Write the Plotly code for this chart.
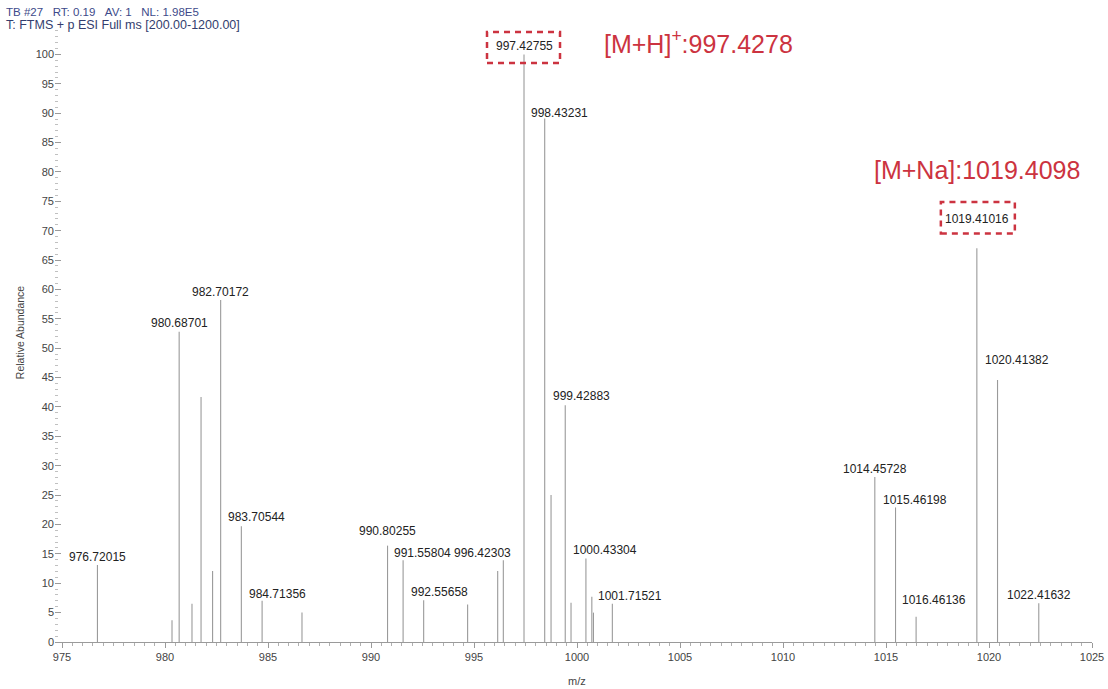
import plotly.graph_objects as go

# ---- data ----
labeled_mz = [976.72015, 980.68701, 982.70172, 983.70544, 984.71356, 990.80255,
              991.55804, 992.55658, 996.42303, 997.42755, 998.43231, 999.42883,
              1000.43304, 1001.71521, 1014.45728, 1015.46198, 1016.46136,
              1019.41016, 1020.41382, 1022.41632]
labeled_int = [13.1, 52.8, 58.2, 19.7, 7.0, 16.4,
               13.9, 7.1, 13.9, 100.0, 89.1, 40.3,
               14.2, 6.5, 28.1, 22.9, 4.3,
               67.0, 44.6, 6.6]
other_mz = [980.34, 981.31, 981.75, 982.31, 986.65, 994.69, 996.15,
            998.74, 999.71, 1000.72, 1000.80]
other_int = [3.7, 6.5, 41.7, 12.1, 5.0, 6.4, 12.1,
             25.0, 6.7, 7.7, 5.0]
x_ticks = [975, 980, 985, 990, 995, 1000, 1005, 1010, 1015, 1020, 1025]
y_ticks = list(range(0, 101, 5))

# label offsets (pixels) — style only
label_dx = [0, 0, 0, 15, 15, 0, 19, 16, -21, 0, 15, 16, 19, 18, 0, 19, 18, 0, 19, 0]
label_dy = [8, 9, 8, 9, 7, 15, 7, 8, 7, 8, 5, 9, 9, 8, 8, 7, 17, 29, 20, 8]

all_mz = labeled_mz + other_mz
all_int = labeled_int + other_int
xs, ys = [], []
for m, h in zip(all_mz, all_int):
    xs += [m, m, None]
    ys += [0, h, None]

fig = go.Figure()
fig.add_trace(go.Scatter(x=xs, y=ys, mode="lines",
                         line=dict(color="#9a9a9a", width=1.1),
                         hoverinfo="skip", showlegend=False))

FONT = "Liberation Sans, Arial"
annotations = []
for m, h, dx, dy in zip(labeled_mz, labeled_int, label_dx, label_dy):
    annotations.append(dict(x=m, y=h, xref="x", yref="y", text=f"{m:.5f}",
                            showarrow=False, xanchor="center", yanchor="middle",
                            xshift=dx, yshift=dy,
                            font=dict(family=FONT, size=12, color="#222")))

red = "#cc3340"
annotations += [
    dict(x=1001.2, y=102.1, xref="x", yref="y", text="[M+H]<sup>+</sup>:997.4278",
         showarrow=False, xanchor="left", yanchor="middle",
         font=dict(family=FONT, size=25, color=red)),
    dict(x=1014.31, y=80.4, xref="x", yref="y", text="[M+Na]:1019.4098",
         showarrow=False, xanchor="left", yanchor="middle",
         font=dict(family=FONT, size=25, color=red)),
]

W, H = 1108, 689
ml, mr, mt, mb = 55, 16, 24.6, 47
pw, ph = W - ml - mr, H - mt - mb
def px(x):
    return (x - ml) / pw
def py(y):
    return (H - mb - y) / ph

nb = "\u00a0"
annotations += [
    dict(x=px(4), y=py(12), xref="paper", yref="paper",
         text=f"TB #27{nb*3}RT: 0.19{nb*3}AV: 1{nb*3}NL: 1.98E5",
         showarrow=False, xanchor="left", yanchor="middle",
         font=dict(family=FONT, size=11.5, color="#3d4a8a")),
    dict(x=px(4), y=py(25), xref="paper", yref="paper",
         text="T: FTMS + p ESI Full ms [200.00-1200.00]",
         showarrow=False, xanchor="left", yanchor="middle",
         font=dict(family=FONT, size=12.5, color="#333d6e")),
    dict(x=px(20), y=py(332), xref="paper", yref="paper", text="Relative Abundance",
         textangle=-90, showarrow=False, xanchor="center", yanchor="middle",
         font=dict(family=FONT, size=10.5, color="#444")),
    dict(x=px(577), y=py(681), xref="paper", yref="paper", text="m/z",
         showarrow=False, xanchor="center", yanchor="middle",
         font=dict(family=FONT, size=11, color="#444")),
]

dash = dict(color=red, width=2.5, dash="6px,5px")
shapes = [
    dict(type="rect", xref="x", yref="y", xsizemode="pixel", ysizemode="pixel",
         xanchor=labeled_mz[9], yanchor=labeled_int[9], x0=-37, x1=36, y0=-8.7, y1=22.3,
         line=dash),
    dict(type="rect", xref="x", yref="y", xsizemode="pixel", ysizemode="pixel",
         xanchor=labeled_mz[17], yanchor=labeled_int[17], x0=-36, x1=38, y0=14.7, y1=46.3,
         line=dash),
]

fig.update_layout(
    width=W, height=H, autosize=False,
    margin=dict(l=ml, r=mr, t=mt, b=mb, pad=0, autoexpand=False),
    paper_bgcolor="white", plot_bgcolor="white",
    annotations=annotations, shapes=shapes,
    xaxis=dict(range=[974.66, 1025], tickvals=x_ticks, ticktext=[str(t) for t in x_ticks],
               showline=True, linecolor="#9a9a9a", linewidth=1.3, automargin=False,
               ticks="outside", ticklen=5, tickcolor="#9a9a9a", tickwidth=1,
               minor=dict(dtick=0.5, ticklen=3, tickcolor="#b0b0b0", ticks="outside"),
               showgrid=False, zeroline=False,
               tickfont=dict(family=FONT, size=11, color="#444")),
    yaxis=dict(range=[0, 105], tickvals=y_ticks, ticktext=[str(t) for t in y_ticks],
               showline=False, ticks="inside", ticklen=6, tickcolor="#9a9a9a", automargin=False,
               minor=dict(dtick=1, ticklen=3, tickcolor="#c0c0c0", ticks="inside"),
               showgrid=False, zeroline=False,
               tickfont=dict(family=FONT, size=11, color="#444")),
)

fig.write_html("out.html", config={"displayModeBar": False, "responsive": False},
               post_script="document.body.style.margin='0';")
